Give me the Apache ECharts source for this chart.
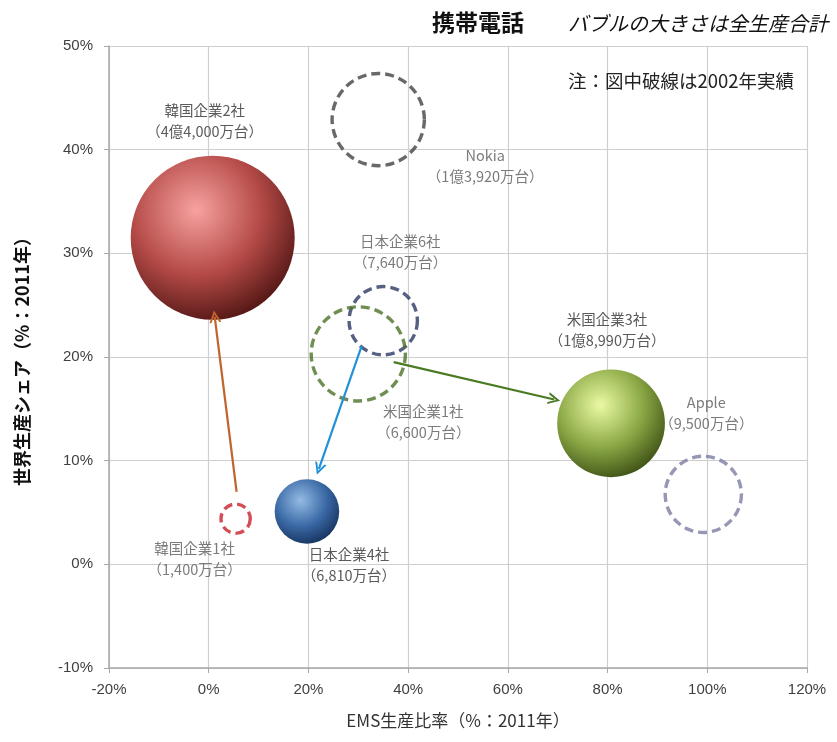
<!DOCTYPE html>
<html>
<head>
<meta charset="utf-8">
<script src="https://cdn.jsdelivr.net/npm/echarts@6/dist/echarts.min.js"></script>
<style>html,body{margin:0;padding:0;background:#fff}#c{width:837px;height:742px}</style>
</head>
<body>
<div id="c"></div>
<script>
// ---- data ----
const categories = ['韓国企業2社', '韓国企業1社', '日本企業4社', '日本企業6社', '米国企業1社', '米国企業3社', 'Nokia', 'Apple'];
const emsRatio = [0.8, 5.4, 19.7, 35, 30, 80.7, 34, 99.2];          // x, %
const worldShare = [31.5, 4.4, 5.1, 23.5, 20.3, 13.6, 42.9, 6.75];  // y, %
const bubbleVolume = [44000, 1400, 6810, 7640, 14500, 18990, 13920, 9500]; // bubble size (万台)
const volumeLabels = ['4億4,000万台', '1,400万台', '6,810万台', '7,640万台', '6,600万台', '1億8,990万台', '1億3,920万台', '9,500万台'];
const dataYear = [2011, 2002, 2011, 2002, 2002, 2011, 2002, 2002];
// arrows: from / to, in %
const arrowFrom = [[5.6, 7.0], [30.7, 21.1], [37.1, 19.5]];
const arrowTo = [[1.2, 23.9], [22.1, 9.2], [69.3, 15.9]];
const xTicks = { min: -20, max: 120, interval: 20 };
const yTicks = { min: -10, max: 50, interval: 10 };

// ---- styles ----
function sphere(h, b, e) {
  return { type: 'radial', x: 0.4, y: 0.33, r: 0.72,
    colorStops: [{ offset: 0, color: h }, { offset: 0.55, color: b }, { offset: 1, color: e }] };
}
const styles = [
  { fill: sphere('#f7a2a0', '#b44a47', '#4e1412') },
  { dash: '#c8202c' },
  { fill: sphere('#94bbe4', '#3b6aa6', '#15315c') },
  { dash: '#2a3864' },
  { dash: '#4c7226' },
  { fill: sphere('#eafaa4', '#8ba845', '#3b4e14') },
  { dash: '#424242' },
  { dash: '#7c7ca2' }
];
const labelOffsets = [[-8, -117], [-41, 40], [42, 54], [17, -69], [65, 68], [-4, -93], [107, 46], [3, -81]];
const arrowColors = ['#c2642e', '#2292d8', '#4a7a22'];

const sizeK = 164 / Math.sqrt(44000);
const bubbleData = categories.map((c, i) => {
  const st = styles[i];
  const itemStyle = st.fill
    ? { color: st.fill, opacity: 1 }
    : { color: 'rgba(0,0,0,0)', borderColor: st.dash, borderWidth: 3.4, borderType: [9, 5] };
  return {
    name: c,
    value: [emsRatio[i], worldShare[i], bubbleVolume[i], dataYear[i]],
    itemStyle: itemStyle,
    label: {
      show: true, position: 'inside', offset: labelOffsets[i],
      formatter: c + '\n（' + volumeLabels[i] + '）',
      color: '#5a5a5a', fontSize: 14.5, lineHeight: 21,
      fontFamily: 'Noto Sans CJK JP'
    }
  };
});
const arrowData = arrowFrom.map((f, i) => ({
  coords: [f, arrowTo[i]],
  lineStyle: { color: arrowColors[i], width: 2.2, opacity: 1 }
}));

const chart = echarts.init(document.getElementById('c'));
chart.setOption({
  animation: false,
  backgroundColor: '#fff',
  textStyle: { fontFamily: 'Noto Sans CJK JP' },
  title: [
    { text: '携帯電話', left: 427, top: 6, textStyle: { fontSize: 23, fontWeight: 'bold', color: '#111', fontFamily: 'Noto Sans CJK JP' } },
    { text: 'バブルの大きさは全生産合計', left: 563, top: 8, textStyle: { fontSize: 20, fontStyle: 'italic', fontWeight: 'normal', color: '#111', fontFamily: 'Noto Sans CJK JP' } },
    { text: '注：図中破線は2002年実績', left: 563, top: 67, textStyle: { fontSize: 18.5, fontWeight: 'normal', color: '#222', fontFamily: 'Noto Sans CJK JP' } }
  ],
  grid: { left: 109, right: 30, top: 46, bottom: 74 },
  xAxis: {
    type: 'value', min: xTicks.min, max: xTicks.max, interval: xTicks.interval,
    name: 'EMS生産比率（%：2011年）', nameLocation: 'middle', nameGap: 44,
    nameTextStyle: { fontSize: 17, color: '#333' },
    axisLine: { onZero: false, lineStyle: { color: '#a8a8a8', width: 1.5 } },
    axisTick: { show: true, length: 5, lineStyle: { color: '#a8a8a8' } },
    axisLabel: { formatter: '{value}%', fontSize: 15, color: '#404040', margin: 14, fontFamily: 'Liberation Sans' },
    splitLine: { show: true, lineStyle: { color: '#cfcfcf', width: 1.2 } }
  },
  yAxis: {
    type: 'value', min: yTicks.min, max: yTicks.max, interval: yTicks.interval,
    name: '世界生産シェア（%：2011年）', nameLocation: 'middle', nameGap: 78, nameRotate: 90,
    nameTextStyle: { fontSize: 18, fontWeight: 'bold', color: '#111' },
    axisLine: { show: true, onZero: false, lineStyle: { color: '#a8a8a8', width: 1.5 } },
    axisTick: { show: true, length: 5, lineStyle: { color: '#a8a8a8' } },
    axisLabel: { formatter: '{value}%', fontSize: 15, color: '#404040', margin: 16, fontFamily: 'Liberation Sans' },
    splitLine: { show: true, lineStyle: { color: '#cfcfcf', width: 1.2 } }
  },
  series: [
    {
      type: 'scatter', data: bubbleData,
      symbolSize: v => sizeK * Math.sqrt(v[2]),
      clip: false,
      z: 3
    },
    {
      type: 'lines', coordinateSystem: 'cartesian2d', data: arrowData,
      symbol: ['none', 'path://M0,12 L5,0 L10,12 L8.2,12 L5,4 L1.8,12 Z'], symbolSize: [12, 12],
      z: 4, silent: true
    }
  ]
});
</script>
</body>
</html>
